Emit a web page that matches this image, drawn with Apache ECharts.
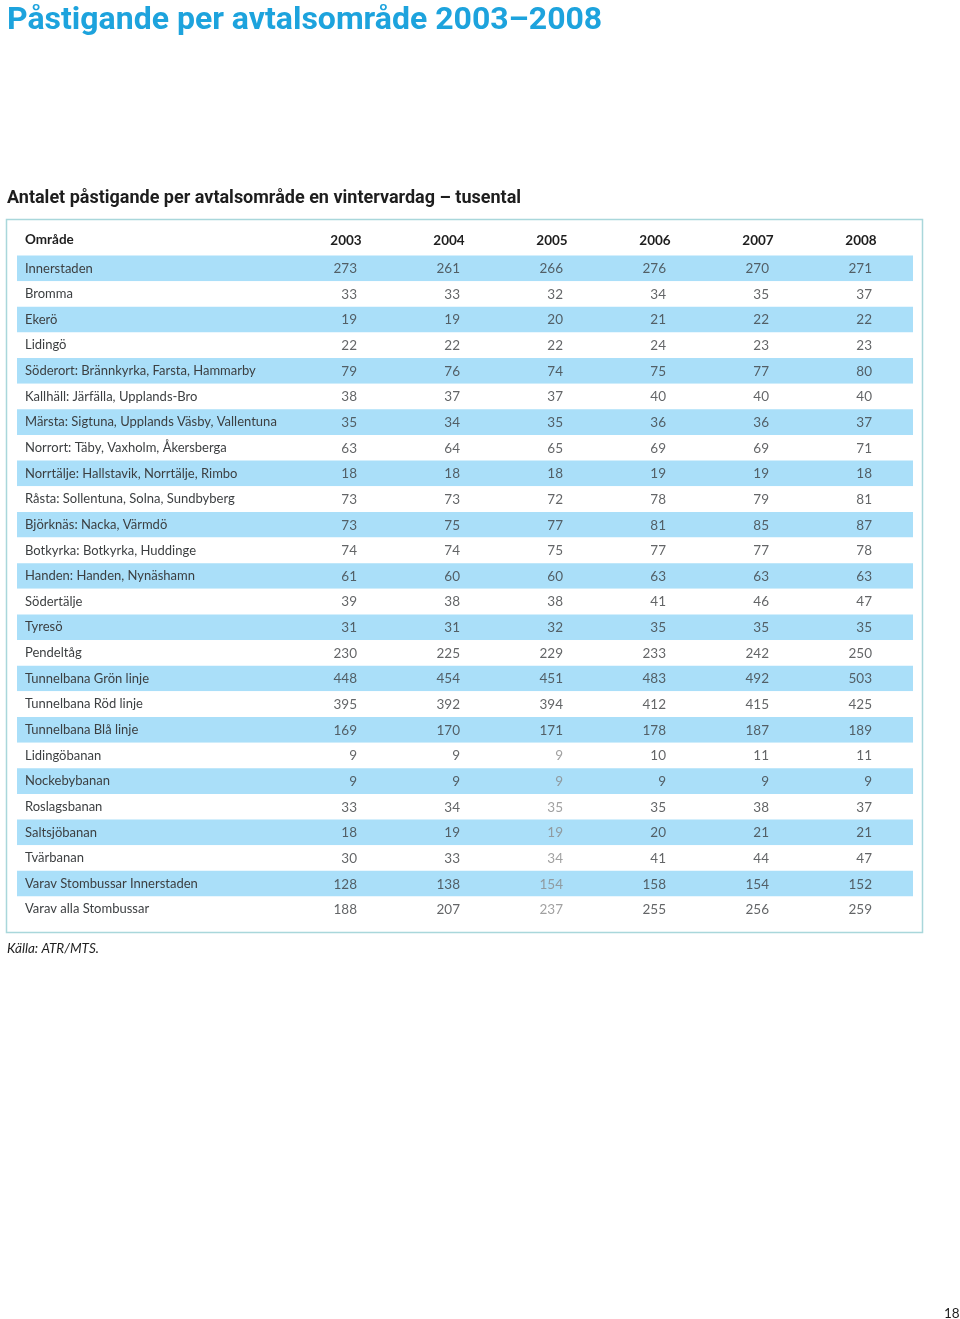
<!DOCTYPE html>
<html><head><meta charset="utf-8">
<script src="https://cdn.jsdelivr.net/npm/echarts@6/dist/echarts.min.js"></script>
<style>html,body{margin:0;padding:0;background:#fff}#c{width:960px;height:1319px}</style>
</head><body><div id="c"></div>
<script>
const areas = [
  'Innerstaden','Bromma','Ekerö','Lidingö',
  'Söderort: Brännkyrka, Farsta, Hammarby',
  'Kallhäll: Järfälla, Upplands-Bro',
  'Märsta: Sigtuna, Upplands Väsby, Vallentuna',
  'Norrort: Täby, Vaxholm, Åkersberga',
  'Norrtälje: Hallstavik, Norrtälje, Rimbo',
  'Råsta: Sollentuna, Solna, Sundbyberg',
  'Björknäs: Nacka, Värmdö',
  'Botkyrka: Botkyrka, Huddinge',
  'Handen: Handen, Nynäshamn',
  'Södertälje','Tyresö','Pendeltåg',
  'Tunnelbana Grön linje','Tunnelbana Röd linje','Tunnelbana Blå linje',
  'Lidingöbanan','Nockebybanan','Roslagsbanan','Saltsjöbanan','Tvärbanan',
  'Varav Stombussar Innerstaden','Varav alla Stombussar'
];
const years = ['2003','2004','2005','2006','2007','2008'];
const v2003 = [273,33,19,22,79,38,35,63,18,73,73,74,61,39,31,230,448,395,169,9,9,33,18,30,128,188];
const v2004 = [261,33,19,22,76,37,34,64,18,73,75,74,60,38,31,225,454,392,170,9,9,34,19,33,138,207];
const v2005 = [266,32,20,22,74,37,35,65,18,72,77,75,60,38,32,229,451,394,171,9,9,35,19,34,154,237];
const v2006 = [276,34,21,24,75,40,36,69,19,78,81,77,63,41,35,233,483,412,178,10,9,35,20,41,158,255];
const v2007 = [270,35,22,23,77,40,36,69,19,79,85,77,63,46,35,242,492,415,187,11,9,38,21,44,154,256];
const v2008 = [271,37,22,23,80,40,37,71,18,81,87,78,63,47,35,250,503,425,189,11,9,37,21,47,152,259];
const columns = [v2003, v2004, v2005, v2006, v2007, v2008];
// cells printed in a lighter grey in the source (2005 column)
const dimmed2005 = ['Lidingöbanan','Nockebybanan','Roslagsbanan','Saltsjöbanan','Tvärbanan','Varav Stombussar Innerstaden','Varav alla Stombussar'];

const FONT = 'Lato';
const TXT = '#3c3f41';
const ROW_TOP = 255.5, ROW_H = 666.6;

const series = columns.map((col, ci) => ({
  type: 'scatter', xAxisIndex: 1, yAxisIndex: 1,
  symbolSize: 1, itemStyle: { color: 'rgba(0,0,0,0)' },
  silent: true,
  data: col.map((v, ri) => {
    const dim = ci === 2 && dimmed2005.includes(areas[ri]);
    return { value: [years[ci], areas[ri], v],
      label: dim ? { color: '#8a8a8a' } : undefined };
  }),
  label: {
    show: true, position: 'inside', align: 'right', offset: [11, 0.5],
    formatter: p => String(p.value[2]),
    fontFamily: FONT, fontSize: 13.5, color: TXT
  }
}));

const chart = echarts.init(document.getElementById('c'), null, { renderer: 'canvas' });
chart.setOption({
  animation: false,
  backgroundColor: '#fff',
  grid: [
    { left: 17, right: 47, top: ROW_TOP, height: ROW_H },
    { left: 294.5, right: 47.5, top: ROW_TOP, height: ROW_H }
  ],
  xAxis: [
    { gridIndex: 0, type: 'value', show: false },
    { gridIndex: 1, type: 'category', data: years, position: 'top',
      axisLine: { show: false }, axisTick: { show: false }, splitLine: { show: false },
      axisLabel: { interval: 0, margin: 8, fontFamily: FONT, fontWeight: 'bold', fontSize: 13.5, color: '#1e1e1e' } }
  ],
  yAxis: [
    { gridIndex: 0, type: 'category', data: areas, inverse: true,
      axisLine: { show: false }, axisTick: { show: false },
      axisLabel: { inside: true, interval: 0, margin: 8, fontFamily: FONT, fontSize: 13, color: TXT },
      splitArea: { show: true, interval: 0, areaStyle: { color: ['#aadff9', '#ffffff'] } } },
    { gridIndex: 1, type: 'category', data: areas, inverse: true, show: false }
  ],
  series: series,
  graphic: [
    { type: 'text', left: 7, top: 5, style: { text: 'Påstigande per avtalsområde 2003–2008', font: 'bold 32px Roboto', fill: '#1da3dd' } },
    { type: 'text', left: 7, top: 189, style: { text: 'Antalet påstigande per avtalsområde en vintervardag – tusental', font: 'bold 18px Roboto', fill: '#1e1e1e' } },
    { type: 'rect', shape: { x: 6.5, y: 219.5, width: 916, height: 713 }, style: { fill: 'none', stroke: '#a9d7db', lineWidth: 1.5 } },
    { type: 'text', left: 25, top: 233, style: { text: 'Område', font: 'bold 13.5px ' + FONT, fill: '#1e1e1e' } },
    { type: 'text', left: 7, top: 942, style: { text: 'Källa: ATR/MTS.', font: 'italic 13.5px ' + FONT, fill: '#1e1e1e' } },
    { type: 'text', left: 944, top: 1307, style: { text: '18', font: '13.5px ' + FONT, fill: '#1e1e1e' } }
  ]
});
</script></body></html>
